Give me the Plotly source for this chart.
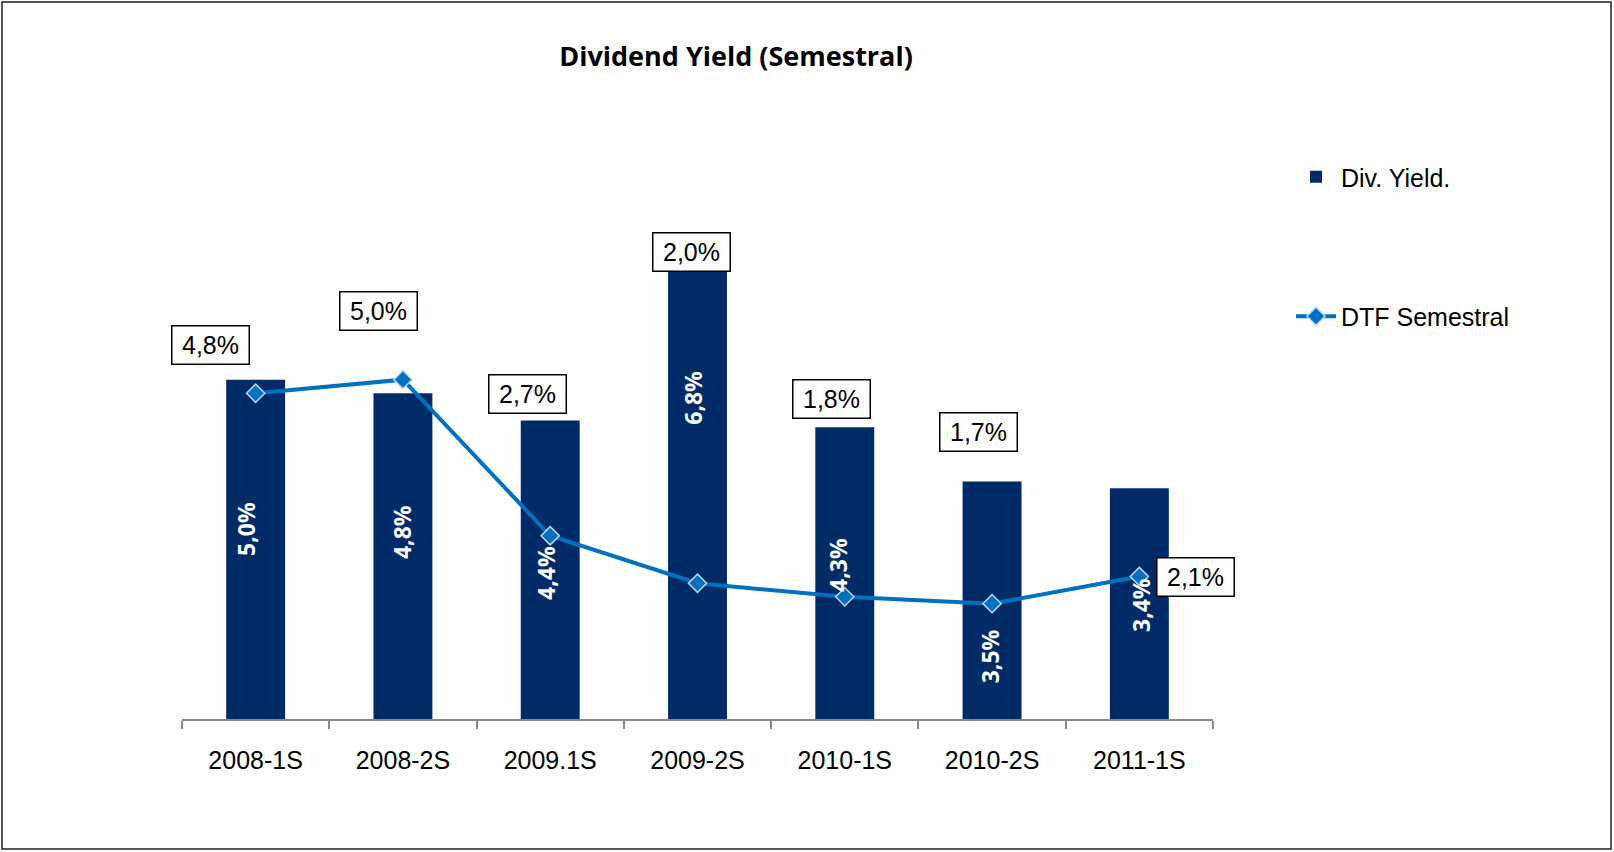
import plotly.graph_objects as go

# ---------------- data ----------------
categories = ["2008-1S", "2008-2S", "2009.1S", "2009-2S", "2010-1S", "2010-2S", "2011-1S"]
div_yield = [5.0, 4.8, 4.4, 6.8, 4.3, 3.5, 3.4]
dtf_semestral = [4.8, 5.0, 2.7, 2.0, 1.8, 1.7, 2.1]

# ---------------- label placement (pixel offsets, style only) ----------------
bar_lab_dx = [-9, -1, -5, -4, -7, -2, 1]
bar_lab_dy = [20, 24, -3, 90, 8, -56, -1]
box_lab_dx = [-45, -24, -23, -6, -13, -14, 56]
box_lab_dy = [48, 69, 142, 331, 198, 172, -1]

def fmt(v):
    return f"{v:.1f}%".replace(".", ",")

W, H = 1614, 852
L, R, T, B = 182, 401, 210, 133
plot_w = W - L - R
plot_h = H - T - B

BAR_COLOR = "#002B66"
LINE_COLOR = "#0070C0"

fig = go.Figure()
fig.add_trace(go.Bar(
    x=categories, y=div_yield, name="Div. Yield.",
    marker=dict(color=BAR_COLOR, line=dict(width=0)),
    legendgroup="a",
))
fig.add_trace(go.Scatter(
    x=categories, y=dtf_semestral, name="DTF Semestral",
    mode="lines+markers",
    line=dict(color=LINE_COLOR, width=4),
    marker=dict(symbol="diamond", size=14, color=LINE_COLOR,
                line=dict(color="#BDD7EE", width=1.5)),
    legendgroup="b",
))

annotations = []
for i, (c, v) in enumerate(zip(categories, div_yield)):
    annotations.append(dict(
        x=c, y=v / 2, xref="x", yref="y", text=fmt(v), showarrow=False,
        textangle=-90, xshift=bar_lab_dx[i], yshift=bar_lab_dy[i],
        font=dict(family="Open Sans, Lato, sans-serif", size=23, color="white", weight="bold"),
    ))
for i, (c, v) in enumerate(zip(categories, dtf_semestral)):
    annotations.append(dict(
        x=c, y=v, xref="x", yref="y", text=fmt(v), showarrow=False,
        xshift=box_lab_dx[i], yshift=box_lab_dy[i],
        width=70, height=31, borderpad=3, borderwidth=1.5, bordercolor="black",
        bgcolor="white",
        font=dict(family="Liberation Sans, Arial, sans-serif", size=25, color="black"),
    ))

# outer frame
fx0, fx1 = (2 - L) / plot_w, (W - 3 - L) / plot_w
fy0, fy1 = (H - B - (H - 3)) / plot_h, (H - B - 2) / plot_h

fig.update_layout(
    width=W, height=H,
    margin=dict(l=L, r=R, t=T, b=B, pad=0),
    paper_bgcolor="white", plot_bgcolor="white",
    bargap=0.6,
    title=dict(text="<b>Dividend Yield (Semestral)</b>", x=736 / W, y=1 - 57 / H,
               xref="container", yref="container", xanchor="center", yanchor="middle",
               font=dict(family="Liberation Sans Narrow, Open Sans, sans-serif", size=27, color="black")),
    xaxis=dict(
        range=[-0.5, len(categories) - 0.5], autorange=False,
        showline=True, linecolor="#898989", linewidth=1.5,
        ticks="outside", ticklen=8, tickcolor="#898989", tickwidth=1.5,
        tickson="boundaries", showgrid=False, zeroline=False,
        ticklabelstandoff=18,
        tickfont=dict(family="Liberation Sans, Arial, sans-serif", size=25, color="black"),
    ),
    yaxis=dict(range=[0, 7.5], visible=False, showgrid=False, zeroline=False),
    legend=dict(
        x=(1291 - L) / plot_w, xanchor="left",
        y=(H - B - 154) / plot_h, yanchor="top",
        font=dict(family="Liberation Sans, Arial, sans-serif", size=25, color="black"),
        traceorder="grouped", tracegroupgap=104, bgcolor="rgba(0,0,0,0)",
        itemwidth=40,
    ),
    showlegend=True,
    annotations=annotations,
    shapes=[dict(type="rect", xref="paper", yref="paper", x0=fx0, x1=fx1, y0=fy0, y1=fy1,
                 line=dict(color="#222222", width=1.5), fillcolor="rgba(0,0,0,0)", layer="above")],
)

fig.write_html("out.html", config={"displayModeBar": False},
               post_script="document.body.style.margin='0';")
